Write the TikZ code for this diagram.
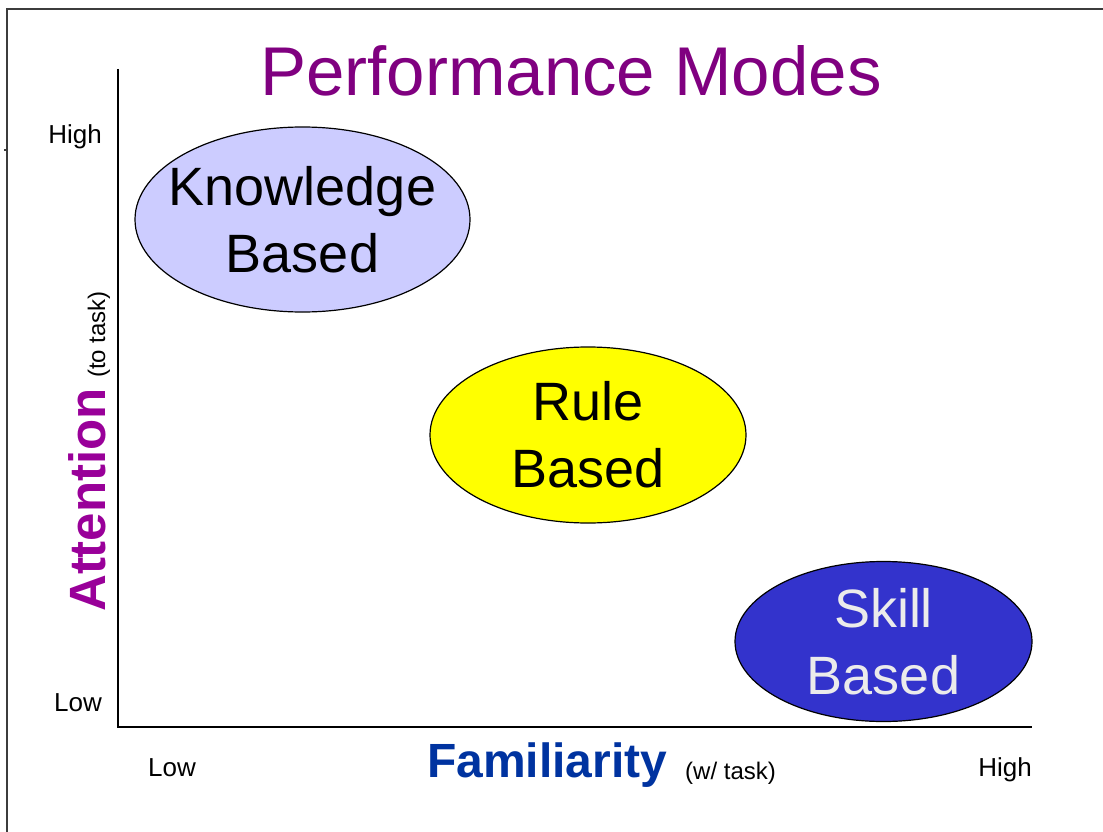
\documentclass[tikz,border=0pt]{standalone}
\usepackage{fontspec}
\setmainfont{Liberation Sans}
\usetikzlibrary{shapes.geometric}

\definecolor{titlepurple}{HTML}{800080}
\definecolor{attnpurple}{HTML}{990099}
\definecolor{famblue}{HTML}{0033A0}
\definecolor{knowfill}{HTML}{CCCCFF}
\definecolor{rulefill}{HTML}{FFFF00}
\definecolor{skillfill}{HTML}{3333CC}
\definecolor{skilltext}{HTML}{EBEBEB}
\definecolor{framegray}{HTML}{3C3C3C}

\tikzset{
  mode/.style={ellipse, draw=black, line width=1.2pt, inner sep=0pt},
  modetext/.style={inner sep=0pt, align=center, font=\fontsize{54}{67}\selectfont},
  ticklabel/.style={inner sep=0pt, font=\fontsize{26}{30}\selectfont},
  axisline/.style={line width=1.8pt, black},
}

\begin{document}
\begin{tikzpicture}[x=1pt, y=-1pt]
  \useasboundingbox (0,0) rectangle (1103,832);

  % slide frame
  \draw[framegray, line width=1.6pt] (7,832) -- (7,9) -- (1103,9);
  \draw[framegray, line width=1.2pt] (4,150) -- (7,150);

  % title
  \node[inner sep=0pt, anchor=base, text=titlepurple,
        font=\fontsize{69}{80}\selectfont] (title) at (571,96) {Performance Modes};

  % axes
  \coordinate (top) at (118,69);
  \coordinate (origin) at (118,727);
  \coordinate (right) at (1032,727);
  \draw[axisline] (top) -- (origin) -- (right);

  % axis tick labels
  \node[ticklabel, anchor=base east] (yhigh) at (102,143) {High};
  \node[ticklabel, anchor=base east] (ylow) at (102,711) {Low};
  \node[ticklabel, anchor=base] (xlow) at (172,776) {Low};
  \node[ticklabel, anchor=base] (xhigh) at (1005,776) {High};

  % axis titles
  \node[inner sep=0pt, anchor=base west, text=famblue,
        font=\fontsize{48}{52}\selectfont\bfseries] (famlabel) at (427,777) {Familiarity};
  \node[inner sep=0pt, anchor=base west,
        font=\fontsize{24}{27}\selectfont] (famnote) at (685,779) {(w/ task)};
  \node[inner sep=0pt, anchor=base west, rotate=90, text=attnpurple,
        font=\fontsize{51}{56}\selectfont\bfseries] (attlabel) at (105,612) {Attention};
  \node[inner sep=0pt, anchor=base west, rotate=90,
        font=\fontsize{24}{27}\selectfont] (attnote) at (105,378) {(to task)};

  % performance modes
  \node[mode, fill=knowfill, minimum width=335pt, minimum height=185pt] (knowledge)
    at (302.5,219.5) {};
  \node[modetext] (knowledgetext) at (knowledge.center) {Knowledge\\Based};

  \node[mode, fill=rulefill, minimum width=316pt, minimum height=176pt] (rule)
    at (588,435) {};
  \node[modetext] (ruletext) at (rule.center) {Rule\\Based};

  \node[mode, fill=skillfill, minimum width=297pt, minimum height=160pt] (skill)
    at (883.5,641.5) {};
  \node[modetext, text=skilltext] (skilltext) at (skill.center) {Skill\\Based};
\end{tikzpicture}
\end{document}
